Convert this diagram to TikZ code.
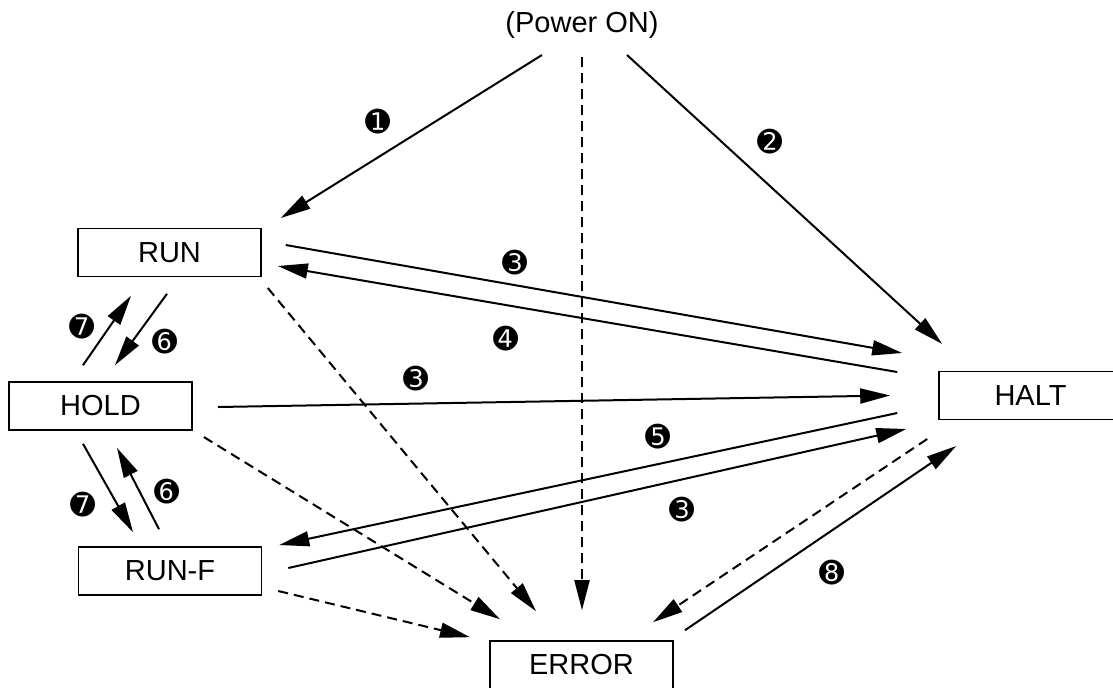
\documentclass[tikz,border=0pt]{standalone}
\usepackage{fontspec}
\setmainfont{Liberation Sans}
\newfontfamily\dingfont{DejaVu Sans}
\usepackage{tikz}
\usetikzlibrary{arrows.meta, positioning, calc}

\begin{document}
\begin{tikzpicture}[x=0.5pt, y=-0.5pt,
    state/.style={draw, line width=0.8pt, minimum width=91.5pt, minimum height=24pt,
      inner sep=0pt, font=\fontsize{14.5}{17}\selectfont},
    trans/.style={line width=1pt, -{Triangle[length=15pt,width=7.5pt]}},
    fault/.style={trans, dash pattern=on 5pt off 3pt},
    num/.style={inner sep=0pt, font=\dingfont\fontsize{15}{15}\selectfont}]
  \useasboundingbox (0,0) rectangle (1113,687);
  \clip (0,0) rectangle (1113,687);

  \node[font=\fontsize{14.5}{17}\selectfont] (power) at (582,25) {(Power ON)};
  \node[state] (run) at (169.5,252.5) {RUN};
  \node[state] (hold) at (100.5,406) {HOLD};
  \node[state] (runf) at (170,571) {RUN-F};
  \node[state] (halt) at (1030.5,395.5) {HALT};
  \node[state] (error) at (581.5,665) {ERROR};

  \draw[trans] ($(power)+(-40,30)$) -- ($(run.east)+(19,-34.5)$);
  \draw[fault] ($(power)+(0,32)$) -- ($(error.north)+(0.5,-30)$);
  \draw[trans] ($(power)+(45,30)$) -- ($(halt.west)+(4,-51.5)$);

  \draw[trans] ($(run.east)+(24,-7.5)$) -- ($(halt.west)+(-36,-42.5)$);
  \draw[trans] ($(halt.west)+(-41,-23.5)$) -- ($(run.east)+(16,13.5)$);
  \draw[trans] ($(hold.east)+(25,1)$) -- ($(halt.west)+(-48,0)$);
  \draw[trans] ($(halt.west)+(-41,17.5)$) -- ($(runf.east)+(17,-26)$);
  \draw[trans] ($(runf.east)+(26,-3)$) -- ($(halt.west)+(-32,33.5)$);
  \draw[fault] ($(halt.west)+(-11,43.5)$) -- ($(error.north)+(71.5,-18)$);
  \draw[trans] ($(error.north)+(103.5,-10)$) -- ($(halt.west)+(18,50.5)$);

  \draw[fault] ($(run.east)+(6,35.5)$) -- ($(error.north)+(-45.5,-29)$);
  \draw[fault] ($(hold.east)+(11,31)$) -- ($(error.north)+(-81.5,-21)$);
  \draw[fault] ($(runf.east)+(16,20)$) -- ($(error.north)+(-111.5,-3)$);

  \draw[trans] ($(hold.north)+(-17.5,-16)$) -- ($(run.south)+(-38.5,18.5)$);
  \draw[trans] ($(run.south)+(-2.5,16.5)$) -- ($(hold.north)+(14.5,-16)$);
  \draw[trans] ($(hold.south)+(-17.5,13)$) -- ($(runf.north)+(-37,-14)$);
  \draw[trans] ($(runf.north)+(-11,-17)$) -- ($(hold.south)+(16.5,17)$);

  \node[num] (n1) at (378,122) {➊};
  \node[num] (n2) at (770,142) {➋};
  \node[num] (n3a) at (515,263) {➌};
  \node[num] (n4) at (506,339) {➍};
  \node[num] (n3b) at (416,379) {➌};
  \node[num] (n5) at (658,437) {➎};
  \node[num] (n3c) at (682,510) {➌};
  \node[num] (n8) at (832,573) {➑};
  \node[num] (n7a) at (82,327) {➐};
  \node[num] (n6a) at (165,342) {➏};
  \node[num] (n7b) at (83,505) {➐};
  \node[num] (n6b) at (167,492) {➏};
\end{tikzpicture}
\end{document}
